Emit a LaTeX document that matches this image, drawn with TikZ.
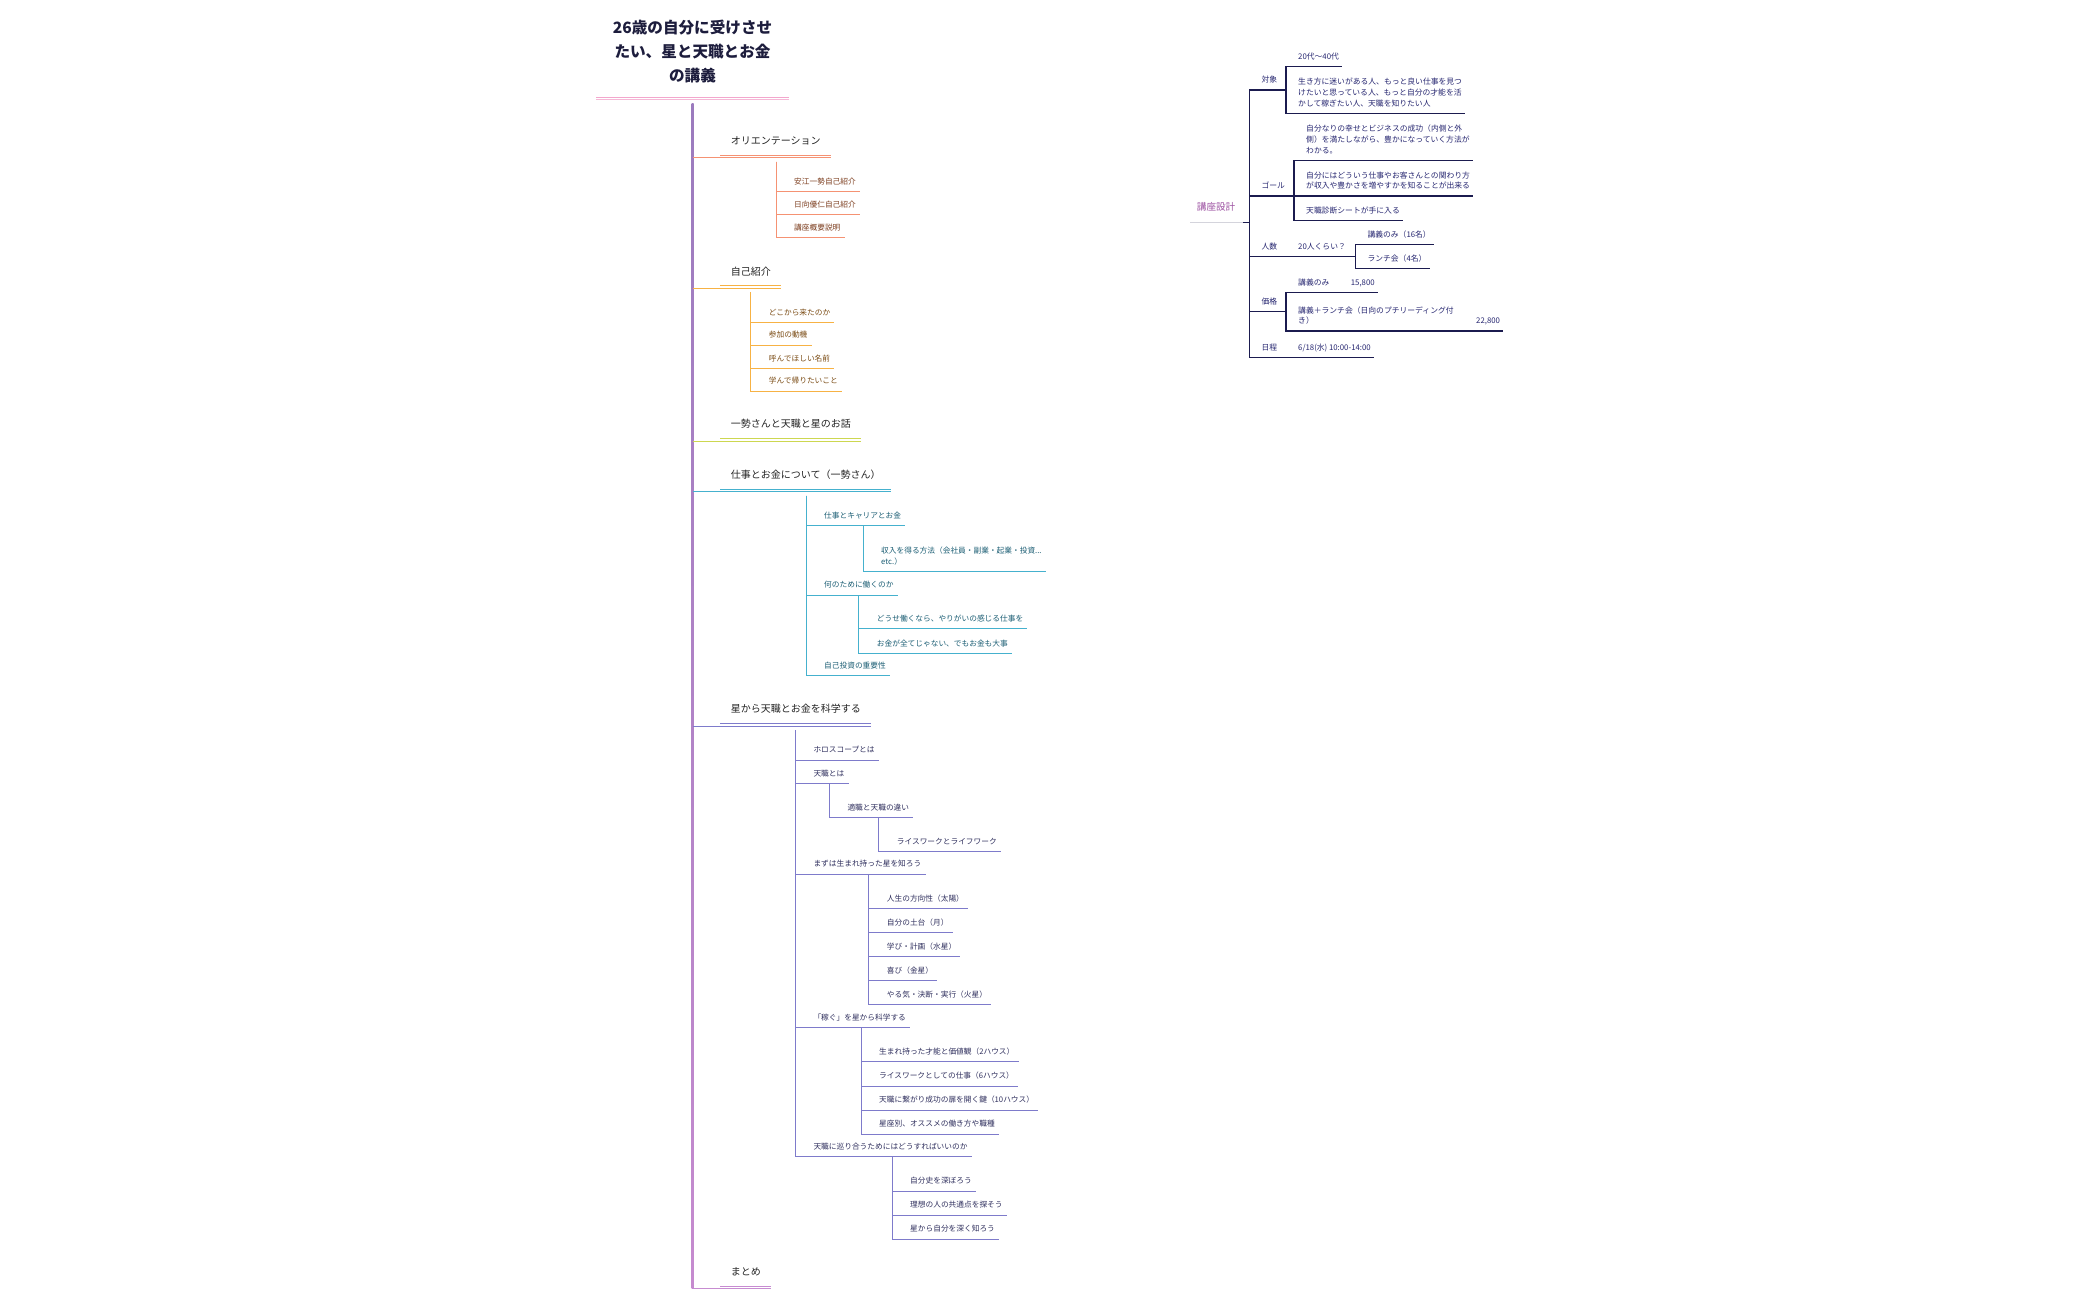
\documentclass[tikz,border=0pt]{standalone}
\usepackage{fontspec}
\setmainfont{Noto Sans CJK JP}
\usetikzlibrary{positioning,calc}
\definecolor{trunktop}{HTML}{9B7BBE}
\definecolor{trunkbot}{HTML}{C68BCF}
\definecolor{mmorange}{HTML}{F59273}
\definecolor{mmamber}{HTML}{F7B244}
\definecolor{mmlime}{HTML}{CDD750}
\definecolor{mmsky}{HTML}{45B1CE}
\definecolor{mmviolet}{HTML}{7E7BCB}
\definecolor{mmorchid}{HTML}{C78CD1}
\definecolor{txorange}{HTML}{7C3D1E}
\definecolor{txamber}{HTML}{7A4B14}
\definecolor{txteal}{HTML}{1C5E74}
\definecolor{txviolet}{HTML}{30305E}
\definecolor{titleink}{HTML}{1D1D3D}
\definecolor{topicink}{HTML}{222222}
\definecolor{navy}{HTML}{1B1B4F}
\definecolor{noteink}{HTML}{262670}
\definecolor{kzpurple}{HTML}{9B4FA0}
\definecolor{planrule}{HTML}{D4D4DC}
\definecolor{titlepink}{HTML}{F3A7CD}
\newcommand{\stk}[1]{\begin{tabular}[b]{@{}l@{}}#1\end{tabular}}

\begin{document}
\begin{tikzpicture}[
  x=1pt, y=-1pt,
  headline/.style={font=\fontsize{15.6}{24}\selectfont\bfseries, text=titleink, anchor=south,
    inner xsep=0pt, inner ysep=15.7pt, text depth=0pt, minimum width=192pt},
  topic/.style={font=\fontsize{10}{13}\selectfont, text=topicink, anchor=south west, inner sep=0pt, text depth=12.9pt},
  leaf/.style={font=\fontsize{7.7}{11}\selectfont, anchor=south west, inner sep=0pt, text depth=7pt},
  memo/.style={font=\fontsize{7.8}{10.8}\selectfont, text=noteink, anchor=south west, inner sep=0pt, text depth=7pt},
  twig/.style={line width=1pt},
  plank/.style={line width=1.2pt, draw=navy},
]
  \useasboundingbox (0,0) rectangle (2100,1299);

  % Title
  \node[headline] (head) at (692.5,97) {\begin{tabular}[b]{@{}c@{}}26歳の自分に受けさせ\\たい、星と天職とお金\\の講義\end{tabular}};
  \draw[twig, draw=titlepink] (head.south west) -- (head.south east);
  \draw[twig, draw=titlepink!80] ($(head.south west)+(0,2.3)$) -- ($(head.south east)+(0,2.3)$);

  % Main topics
  \node[topic] (ori) at (730.7,157.7) {オリエンテーション};
  \node[topic] (intro) at (730.7,288.3) {自己紹介};
  \node[topic] (story) at (730.7,441) {一勢さんと天職と星のお話};
  \node[topic] (work) at (730.7,491.7) {仕事とお金について（一勢さん）};
  \node[topic] (sci) at (730.7,726) {星から天職とお金を科学する};
  \node[topic] (sum) at (730.7,1288.7) {まとめ};

  % Orientation
  \node[leaf, text=txorange] (o1) at (794,191.7) {安江一勢自己紹介};
  \node[leaf, text=txorange] (o2) at (794,214.7) {日向優仁自己紹介};
  \node[leaf, text=txorange] (o3) at (794,237.7) {講座概要説明};

  % Self introduction
  \node[leaf, text=txamber] (i1) at (768.7,322.3) {どこから来たのか};
  \node[leaf, text=txamber] (i2) at (768.7,345) {参加の動機};
  \node[leaf, text=txamber] (i3) at (768.7,368.3) {呼んでほしい名前};
  \node[leaf, text=txamber] (i4) at (768.7,391) {学んで帰りたいこと};

  % Work and money
  \node[leaf, text=txteal] (w1) at (824,525.7) {仕事とキャリアとお金};
  \node[leaf, text=txteal] (w1a) at (881,571.7) {\stk{収入を得る方法（会社員・副業・起業・投資...\\etc.）}};
  \node[leaf, text=txteal] (w2) at (824,595) {何のために働くのか};
  \node[leaf, text=txteal] (w2a) at (876.7,628.3) {どうせ働くなら、やりがいの感じる仕事を};
  \node[leaf, text=txteal] (w2b) at (876.7,653.3) {お金が全てじゃない、でもお金も大事};
  \node[leaf, text=txteal] (w3) at (824,675.7) {自己投資の重要性};

  % Stars
  \node[leaf, text=txviolet] (s1) at (813.3,760) {ホロスコープとは};
  \node[leaf, text=txviolet] (s2) at (813.3,783.3) {天職とは};
  \node[leaf, text=txviolet] (s2a) at (847.3,817.3) {適職と天職の違い};
  \node[leaf, text=txviolet] (s2a1) at (896.7,851.7) {ライスワークとライフワーク};
  \node[leaf, text=txviolet] (s3) at (813.3,874) {まずは生まれ持った星を知ろう};
  \node[leaf, text=txviolet] (s3a) at (886.7,908.3) {人生の方向性（太陽）};
  \node[leaf, text=txviolet] (s3b) at (886.7,932.3) {自分の土台（月）};
  \node[leaf, text=txviolet] (s3c) at (886.7,956.7) {学び・計画（水星）};
  \node[leaf, text=txviolet] (s3d) at (886.7,980.7) {喜び（金星）};
  \node[leaf, text=txviolet] (s3e) at (886.7,1004.3) {やる気・決断・実行（火星）};
  \node[leaf, text=txviolet] (s4) at (813.3,1027.7) {「稼ぐ」を星から科学する};
  \node[leaf, text=txviolet] (s4a) at (879,1061.7) {生まれ持った才能と価値観（2ハウス）};
  \node[leaf, text=txviolet] (s4b) at (879,1086) {ライスワークとしての仕事（6ハウス）};
  \node[leaf, text=txviolet] (s4c) at (879,1110) {天職に繋がり成功の扉を開く鍵（10ハウス）};
  \node[leaf, text=txviolet] (s4d) at (879,1134) {星座別、オススメの働き方や職種};
  \node[leaf, text=txviolet] (s5) at (813.3,1156.7) {天職に巡り合うためにはどうすればいいのか};
  \node[leaf, text=txviolet] (s5a) at (910,1191) {自分史を深ぼろう};
  \node[leaf, text=txviolet] (s5b) at (910,1215) {理想の人の共通点を探そう};
  \node[leaf, text=txviolet] (s5c) at (910,1239) {星から自分を深く知ろう};

  % Trunk and main branches
  \shade[top color=trunktop, bottom color=trunkbot] ($(head.south)+(-1,6)$) rectangle ($(head.south |- sum.south)+(1,0)$);
  \foreach \n/\c in {ori/mmorange, intro/mmamber, story/mmlime, work/mmsky, sci/mmviolet, sum/mmorchid}{
    \draw[twig, draw=\c] (head.south |- \n.south) -- ($(\n.south east)+(10,0)$);
    \draw[twig, draw=\c] ($(\n.south west)+(-10.7,-2.7)$) -- ($(\n.south east)+(10,-2.7)$);
  }

  % Sub branches
  \foreach \p/\n/\c in {ori/o1/mmorange, ori/o2/mmorange, ori/o3/mmorange,
      intro/i1/mmamber, intro/i2/mmamber, intro/i3/mmamber, intro/i4/mmamber,
      work/w1/mmsky, work/w2/mmsky, work/w3/mmsky,
      sci/s1/mmviolet, sci/s2/mmviolet, sci/s3/mmviolet, sci/s4/mmviolet, sci/s5/mmviolet}
    \draw[twig, draw=\c, shorten <=4pt] ($(\n.south west |- \p.south)+(-18,0)$) |- ($(\n.south east)+(4,0)$);
  \foreach \p/\n/\c in {w1/w1a/mmsky, w2/w2a/mmsky, w2/w2b/mmsky,
      s2/s2a/mmviolet, s2a/s2a1/mmviolet,
      s3/s3a/mmviolet, s3/s3b/mmviolet, s3/s3c/mmviolet, s3/s3d/mmviolet, s3/s3e/mmviolet,
      s4/s4a/mmviolet, s4/s4b/mmviolet, s4/s4c/mmviolet, s4/s4d/mmviolet,
      s5/s5a/mmviolet, s5/s5b/mmviolet, s5/s5c/mmviolet}
    \draw[twig, draw=\c] ($(\n.south west |- \p.south)+(-18,0)$) |- ($(\n.south east)+(4,0)$);

  % Course plan
  \node[memo, font=\fontsize{9.6}{12}\selectfont, text=kzpurple, text depth=11.8pt] (plan) at (1196.7,222.7) {講座設計};
  \node[memo] (target) at (1261.3,90) {対象};
  \node[memo] (age) at (1298,66.7) {20代〜40代};
  \node[memo] (persona) at (1298,113.3) {\stk{生き方に迷いがある人、もっと良い仕事を見つ\\けたいと思っている人、もっと自分の才能を活\\かして稼ぎたい人、天職を知りたい人}};
  \node[memo] (goal) at (1261.3,196) {ゴール};
  \node[memo] (goal1) at (1306,160.7) {\stk{自分なりの幸せとビジネスの成功（内側と外\\側）を満たしながら、豊かになっていく方法が\\わかる。}};
  \node[memo] (goal2) at (1306,196) {\stk{自分にはどういう仕事やお客さんとの関わり方\\が収入や豊かさを増やすかを知ることが出来る}};
  \node[memo] (goal3) at (1306,220.7) {天職診断シートが手に入る};
  \node[memo] (seats) at (1261.3,256.7) {人数};
  \node[memo] (approx) at (1298,256.7) {20人くらい？};
  \node[memo] (lecture16) at (1367.3,244.3) {講義のみ（16名）};
  \node[memo] (lunch4) at (1367.3,268.3) {ランチ会（4名）};
  \node[memo] (price) at (1261.3,311.7) {価格};
  \node[memo] (lectureonly) at (1298,292.7) {講義のみ};
  \node[memo] (fee1) at (1350.7,292.7) {15,800};
  \node[memo] (withlunch) at (1298,331) {\stk{講義＋ランチ会（日向のプチリーディング付\\き）}};
  \node[memo] (fee2) at (1476,331) {22,800};
  \node[memo] (date) at (1261.3,357.7) {日程};
  \node[memo] (when) at (1298,357.7) {6/18(水) 10:00-14:00};

  \draw[twig, draw=planrule] ($(plan.south west)+(-6.7,0)$) -- ($(plan.south east)+(7.6,0)$);
  \draw[plank] ($(plan.south east)+(7.6,0)$) -- ($(target.south west |- plan.south)+(-12,0)$);
  \foreach \n in {target,goal,seats,price,date}
    \draw[plank] ($(\n.south west |- plan.south)+(-12,0)$) |- ($(\n.south east)+(3,0)$);
  \foreach \p/\n in {target/age, target/persona, goal/goal1, goal/goal2, goal/goal3,
      seats/approx, approx/lecture16, approx/lunch4,
      price/lectureonly, lectureonly/fee1, price/withlunch, withlunch/fee2, date/when}
    \draw[plank] ($(\p.south east)+(3,0)$) -- ($(\n.south west |- \p.south)+(-12,0)$) |- ($(\n.south east)+(3,0)$);
\end{tikzpicture}
\end{document}
